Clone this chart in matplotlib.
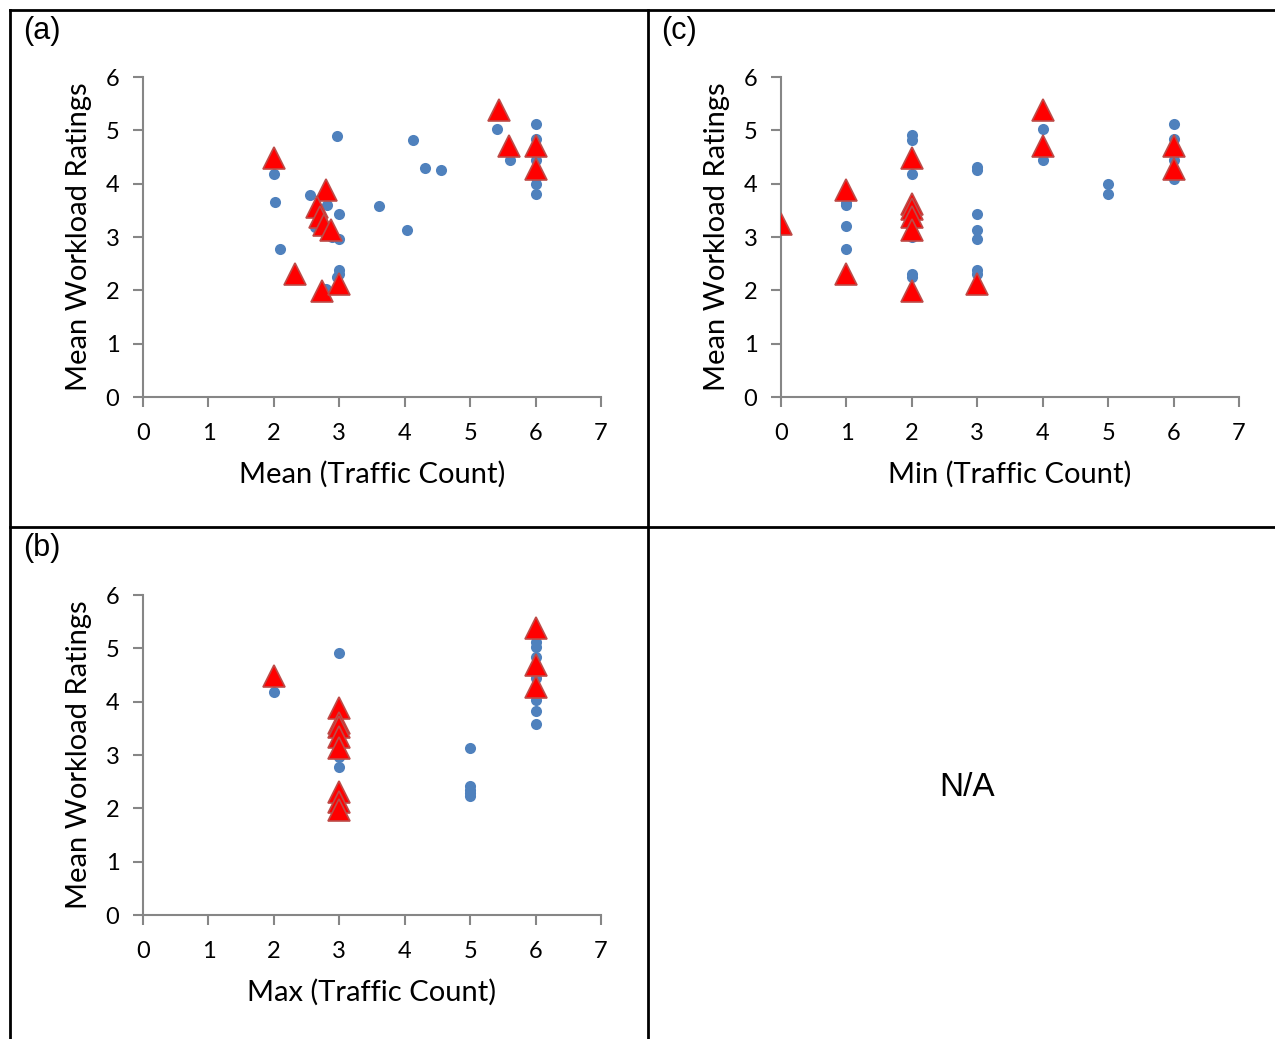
import matplotlib.pyplot as plt

# (a) mean traffic count
a_dot_x = [2.0, 2.02, 2.10, 2.56, 2.63, 2.81, 2.89, 2.97, 3.0, 3.0, 3.0, 3.0, 2.96, 2.79,
           3.61, 4.04, 4.12, 4.31, 4.56, 5.41, 5.61, 6.0, 6.0, 6.0, 6.0, 6.0, 6.0]
a_dot_y = [4.19, 3.66, 2.78, 3.78, 3.19, 3.6, 3.0, 4.9, 3.44, 2.97, 2.375, 2.3, 2.25, 2.03,
           3.59, 3.125, 4.81, 4.3, 4.25, 5.03, 4.44, 5.125, 4.83, 4.44, 4.125, 4.0, 3.81]
a_tri_x = [2.0, 2.32, 2.73, 3.0, 2.79, 2.66, 2.70, 2.76, 2.87, 5.44, 5.59, 6.0, 6.0]
a_tri_y = [4.49, 2.31, 1.99, 2.125, 3.89, 3.56, 3.375, 3.22, 3.14, 5.39, 4.7, 4.7, 4.28]

# (c) min traffic count
c_dot_x = [1, 1, 1, 1, 2, 2, 2, 2, 2, 2, 3, 3, 3, 3, 3, 3, 3, 4, 4, 5, 5, 6, 6, 6, 6]
c_dot_y = [3.64, 3.6, 3.2, 2.78, 4.91, 4.81, 4.19, 3.0, 2.31, 2.25,
           4.31, 4.25, 3.44, 3.125, 2.97, 2.375, 2.3, 5.03, 4.44, 4.0, 3.81,
           5.125, 4.83, 4.44, 4.09]
c_tri_x = [0, 1, 1, 2, 2, 2, 2, 2, 2, 3, 4, 4, 6, 6]
c_tri_y = [3.24, 3.89, 2.31, 4.49, 3.625, 3.53, 3.375, 3.125, 1.99, 2.125, 5.39, 4.7, 4.7, 4.28]

# (b) max traffic count
b_dot_x = [2, 3, 3, 3, 5, 5, 5, 5, 5, 6, 6, 6, 6, 6, 6, 6, 6, 6]
b_dot_y = [4.19, 4.91, 2.78, 2.97, 3.125, 2.41, 2.34, 2.28, 2.23,
           5.125, 5.03, 4.84, 4.44, 4.16, 4.03, 3.83, 3.59, 4.6]
b_tri_x = [2, 3, 3, 3, 3, 3, 3, 3, 3, 6, 6, 6]
b_tri_y = [4.49, 3.89, 3.6, 3.53, 3.34, 3.125, 2.31, 2.125, 1.97, 5.39, 4.69, 4.28]

DOT_COLOR = '#4F81BD'
TRI_FACE = '#FF0000'
TRI_EDGE = '#BE4B48'
AXIS_GRAY = '#868686'
W, H = 1275, 1039


def draw_panel(ax, dx, dy, tx, ty, xlabel):
    ax.plot(dx, dy, 'o', color=DOT_COLOR, markersize=8, markeredgewidth=0, zorder=3)
    ax.plot(tx, ty, '^', markerfacecolor=TRI_FACE, markeredgecolor=TRI_EDGE,
            markersize=16, markeredgewidth=1.2, linestyle='none', zorder=4)
    ax.set_xlim(0, 7)
    ax.set_ylim(0, 6)
    ax.set_xticks(range(8))
    ax.set_yticks(range(7))
    for side in ['top', 'right']:
        ax.spines[side].set_visible(False)
    for side in ['left', 'bottom']:
        ax.spines[side].set_color(AXIS_GRAY)
        ax.spines[side].set_linewidth(1.5)
    ax.tick_params(direction='out', length=7, width=1.5, color=AXIS_GRAY,
                   labelsize=17, labelcolor='black')
    ax.tick_params(axis='x', pad=12)
    ax.tick_params(axis='y', pad=10)
    ax.set_xlabel(xlabel, fontsize=21, labelpad=12)
    ax.set_ylabel('Mean Workload Ratings', fontsize=21, labelpad=10)
    for sp in ax.spines.values():
        sp.set_clip_on(False)
    ax.patch.set_alpha(0)


plt.rcParams['font.family'] = ['Lato', 'DejaVu Sans']
fig = plt.figure(figsize=(W / 100, H / 100), dpi=100)

def px_axes(x0, x1, y0, y1):
    return fig.add_axes([x0 / W, 1 - y1 / H, (x1 - x0) / W, (y1 - y0) / H])

ax_a = px_axes(143, 601, 77, 397)
ax_c = px_axes(781, 1239, 77, 397)
ax_b = px_axes(143, 601, 595, 915)

draw_panel(ax_a, a_dot_x, a_dot_y, a_tri_x, a_tri_y, 'Mean (Traffic Count)')
draw_panel(ax_c, c_dot_x, c_dot_y, c_tri_x, c_tri_y, 'Min (Traffic Count)')
draw_panel(ax_b, b_dot_x, b_dot_y, b_tri_x, b_tri_y, 'Max (Traffic Count)')

# table-like frame around the panels
lw = 2
fig.add_artist(plt.Line2D([10 / W, 1], [1 - 10 / H] * 2, color='black', lw=lw))
fig.add_artist(plt.Line2D([10 / W, 10 / W], [0, 1 - 10 / H], color='black', lw=lw))
fig.add_artist(plt.Line2D([10 / W, 1], [1 - 527 / H] * 2, color='black', lw=lw))
fig.add_artist(plt.Line2D([648 / W, 648 / W], [0, 1 - 10 / H], color='black', lw=lw))

arial = 'Liberation Sans'
fig.text(23 / W, 1 - 31 / H, '(a)', fontsize=22, family=arial, va='center', ha='left')
fig.text(661 / W, 1 - 31 / H, '(c)', fontsize=22, family=arial, va='center', ha='left')
fig.text(23 / W, 1 - 548 / H, '(b)', fontsize=22, family=arial, va='center', ha='left')
fig.text(967 / W, 1 - 787 / H, 'N/A', fontsize=24, family=arial, va='center', ha='center')

fig.savefig('out.png', dpi=100)
